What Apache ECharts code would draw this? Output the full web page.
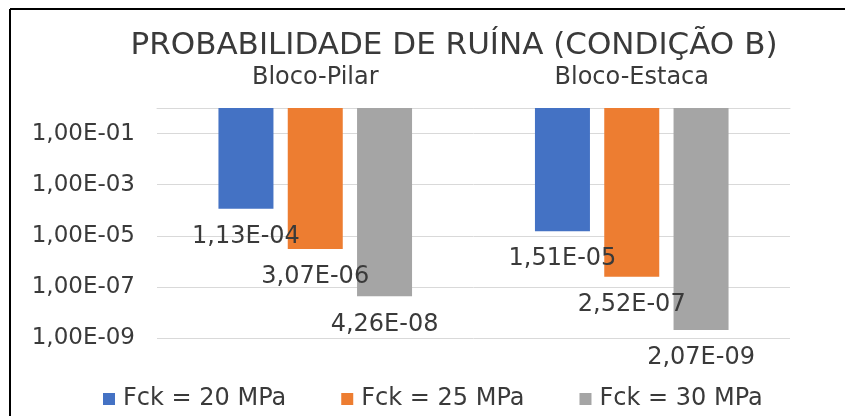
<!DOCTYPE html>
<html>
<head>
<meta charset="utf-8">
<script src="https://cdn.jsdelivr.net/npm/echarts@6/dist/echarts.min.js"></script>
<style>
  html, body { margin: 0; padding: 0; background: #fff; }
  #chart { width: 845px; height: 416px; }
</style>
</head>
<body>
<div id="chart"></div>
<script>
// dados do gráfico (probabilidade de ruína)
const categorias = ['Bloco-Pilar', 'Bloco-Estaca'];
const fck20 = [1.13e-4, 1.51e-5];
const fck25 = [3.07e-6, 2.52e-7];
const fck30 = [4.26e-8, 2.07e-9];
const nomes = ['Fck = 20 MPa', 'Fck = 25 MPa', 'Fck = 30 MPa'];
const cores = ['#4472C4', '#ED7D31', '#A5A5A5'];

const fonte = 'DejaVu Sans';
const corTexto = '#3a3a3a';

// formata em notação científica com vírgula: 1,13E-04
function fmtSci(v) {
  let e = Math.floor(Math.log10(v) + 1e-9);
  let m = v / Math.pow(10, e);
  if (+m.toFixed(2) >= 10) { m = m / 10; e += 1; }
  const sinal = e < 0 ? '-' : '+';
  const ab = Math.abs(e);
  return m.toFixed(2).replace('.', ',') + 'E' + sinal + (ab < 10 ? '0' + ab : ab);
}

function serie(nome, dados, cor) {
  return {
    name: nome,
    type: 'bar',
    data: dados,
    barWidth: 55,
    barGap: '26%',
    itemStyle: { color: cor },
    label: {
      show: true,
      position: 'bottom',
      distance: 16,
      fontFamily: fonte,
      fontSize: 24,
      color: corTexto,
      formatter: p => fmtSci(p.value)
    }
  };
}

const chart = echarts.init(document.getElementById('chart'));
chart.setOption({
  animation: false,
  title: {
    text: 'PROBABILIDADE DE RUÍNA (CONDIÇÃO B)',
    left: 449,
    textAlign: 'center',
    top: 25,
    textStyle: { fontFamily: fonte, fontSize: 31, fontWeight: 'normal', color: corTexto }
  },
  legend: {
    top: 382,
    left: 98,
    itemWidth: 12,
    itemHeight: 12,
    itemGap: 55,
    icon: 'rect',
    textStyle: { fontFamily: fonte, fontSize: 24, color: corTexto, padding: [0, 0, 0, 3] }
  },
  grid: { left: 157, right: 55, top: 108, bottom: 78 },
  xAxis: {
    type: 'category',
    data: categorias,
    position: 'top',
    axisLine: { show: true, lineStyle: { color: '#D9D9D9' } },
    axisTick: { show: false },
    axisLabel: { fontFamily: fonte, fontSize: 24, color: corTexto, margin: 18 }
  },
  yAxis: {
    type: 'log',
    logBase: 10,
    min: 1e-9,
    max: 1,
    interval: 2,
    axisLine: { show: false },
    axisTick: { show: false },
    splitLine: { lineStyle: { color: '#D9D9D9', width: 1 } },
    axisLabel: {
      fontFamily: fonte,
      fontSize: 23,
      color: corTexto,
      margin: 22,
      formatter: v => (Math.abs(Math.log10(v)) < 1e-6 ? '' : fmtSci(v))
    }
  },
  graphic: [
    { type: 'line', shape: { x1: 10, y1: 9, x2: 845, y2: 9 }, style: { stroke: '#000', lineWidth: 2 } },
    { type: 'line', shape: { x1: 10, y1: 9, x2: 10, y2: 416 }, style: { stroke: '#000', lineWidth: 2 } }
  ],
  series: [
    serie(nomes[0], fck20, cores[0]),
    serie(nomes[1], fck25, cores[1]),
    serie(nomes[2], fck30, cores[2])
  ]
});
</script>
</body>
</html>
